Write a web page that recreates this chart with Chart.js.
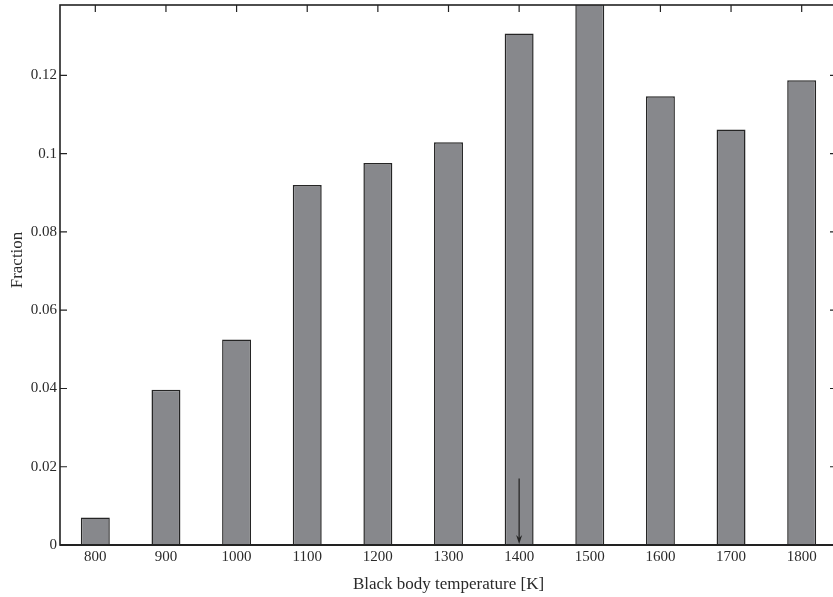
<!DOCTYPE html>
<html>
<head>
<meta charset="utf-8">
<script src="https://cdn.jsdelivr.net/npm/chart.js@4.4.0/dist/chart.umd.min.js"></script>
<style>
  html, body { margin: 0; padding: 0; background: #fff; overflow: hidden; }
  #wrap { width: 838px; height: 597px; position: relative; }
</style>
</head>
<body>
<div id="wrap"><canvas id="c"></canvas></div>
<script>
const categories = ['800', '900', '1000', '1100', '1200', '1300', '1400', '1500', '1600', '1700', '1800'];
const fractions = [0.0070, 0.0397, 0.0525, 0.0920, 0.0976, 0.1029, 0.1307, 0.1450, 0.1147, 0.1062, 0.1188];
const yTickValues = [0, 0.02, 0.04, 0.06, 0.08, 0.1, 0.12];
const yTickLabels = ['0', '0.02', '0.04', '0.06', '0.08', '0.1', '0.12'];
const yMax = 0.138;
const arrowCategory = '1400';
const arrowFrom = 0.017;
const xTitle = 'Black body temperature [K]';
const yTitle = 'Fraction';

const FONT = '"Liberation Serif", "Times New Roman", serif';
const INK = '#222222';

const framePlugin = {
  id: 'frame',
  beforeDatasetsDraw(chart) {
    const ctx = chart.ctx;
    const a = chart.chartArea;
    const xs = chart.scales.x, ys = chart.scales.y;
    ctx.save();
    ctx.strokeStyle = INK;
    ctx.lineWidth = 1.2;
    ctx.beginPath();
    ys.ticks.forEach(t => {
      const y = ys.getPixelForValue(t.value);
      if (t.value === 0) return;
      ctx.moveTo(a.left, y); ctx.lineTo(a.left + 7, y);
      ctx.moveTo(a.right, y); ctx.lineTo(a.right - 7, y);
    });
    xs.ticks.forEach((t, i) => {
      const x = xs.getPixelForTick(i);
      ctx.moveTo(x, a.top); ctx.lineTo(x, a.top + 7);
    });
    ctx.stroke();
    ctx.restore();
  },
  afterDraw(chart) {
    const ctx = chart.ctx;
    const a = chart.chartArea;
    const xs = chart.scales.x, ys = chart.scales.y;
    ctx.save();
    ctx.strokeStyle = INK;
    ctx.lineWidth = 1.6;
    ctx.strokeRect(a.left, a.top, a.right - a.left, a.bottom - a.top);
    ctx.lineWidth = 2;
    ctx.beginPath();
    ctx.moveTo(a.left, a.bottom); ctx.lineTo(a.right, a.bottom);
    ctx.stroke();
    // arrow
    const ax = xs.getPixelForValue(categories.indexOf(arrowCategory));
    const y0 = ys.getPixelForValue(arrowFrom);
    const y1 = ys.getPixelForValue(0) - 1;
    ctx.fillStyle = INK;
    ctx.lineWidth = 1.2;
    ctx.beginPath();
    ctx.moveTo(ax, y0); ctx.lineTo(ax, y1 - 4);
    ctx.stroke();
    ctx.beginPath();
    ctx.moveTo(ax, y1);
    ctx.lineTo(ax - 3, y1 - 9);
    ctx.lineTo(ax, y1 - 6);
    ctx.lineTo(ax + 3, y1 - 9);
    ctx.closePath();
    ctx.fill();
    // y title
    ctx.translate(18, (a.top + a.bottom) / 2 - 15);
    ctx.rotate(-Math.PI / 2);
    ctx.font = '17px ' + FONT;
    ctx.fillStyle = '#2a2a2a';
    ctx.textAlign = 'center';
    ctx.textBaseline = 'middle';
    ctx.fillText(yTitle, 0, 0);
    ctx.restore();
  }
};

new Chart(document.getElementById('c'), {
  type: 'bar',
  data: {
    labels: categories,
    datasets: [{
      data: fractions,
      backgroundColor: '#87888c',
      borderColor: '#252525',
      borderWidth: 1.5,
      borderSkipped: 'bottom',
      categoryPercentage: 1.0,
      barPercentage: 0.41
    }]
  },
  options: {
    responsive: true,
    maintainAspectRatio: false,
    animation: false,
    events: [],
    layout: { padding: { top: 5, right: 1, left: 0, bottom: 0 } },
    plugins: { legend: { display: false }, tooltip: { enabled: false } },
    scales: {
      x: {
        grid: { display: false, drawTicks: false },
        border: { display: false },
        ticks: { color: '#2a2a2a', font: { family: FONT, size: 15 }, padding: 3, maxRotation: 0, autoSkip: false },
        title: { display: true, text: xTitle, color: '#2a2a2a', font: { family: FONT, size: 17 }, padding: { top: 0, bottom: 2 } },
        afterFit(s) { s.height = 52; s.paddingLeft = 0; s.paddingRight = 0; }
      },
      y: {
        min: 0,
        max: yMax,
        grid: { display: false, drawTicks: false },
        border: { display: false },
        ticks: {
          color: '#2a2a2a',
          font: { family: FONT, size: 15 },
          padding: 3,
          callback(v) {
            const i = yTickValues.findIndex(t => Math.abs(t - v) < 1e-9);
            return i >= 0 ? yTickLabels[i] : '';
          }
        },
        afterBuildTicks(s) { s.ticks = yTickValues.map(v => ({ value: v })); },
        afterFit(s) { s.width = 60; s.paddingTop = 0; s.paddingBottom = 0; }
      }
    }
  },
  plugins: [framePlugin]
});
</script>
</body>
</html>
